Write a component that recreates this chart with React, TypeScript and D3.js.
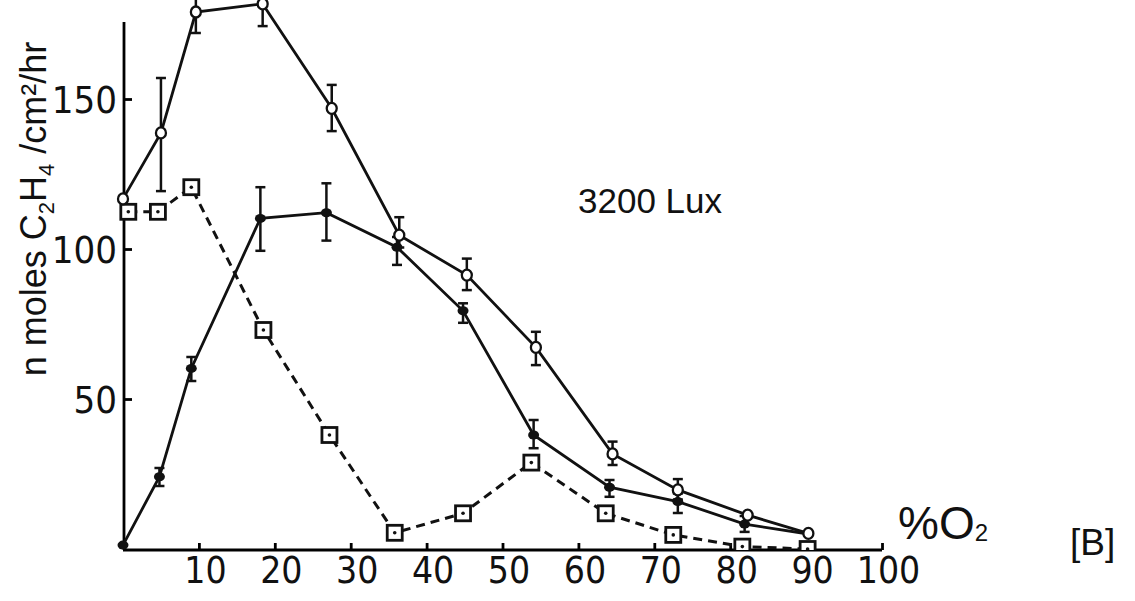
import React, { useEffect, useRef } from 'react'
import * as d3 from 'd3'

// % O2 values and rates (n moles C2H4 /cm2/hr)
const openX = [0, 5, 9.6, 18.4, 27.5, 36.4, 45.3, 54.4, 64.5, 73.1, 82.3, 90.3]
const openY = [116.7, 138.7, 179, 181.7, 146.9, 104.6, 91.3, 67.2, 31.7, 19.7, 11.3, 5.2]
const openHi = [null, 157, 188, 190, 154.7, 110.6, 96.8, 72.4, 35.8, 23.3, null, null]
const openLo = [null, 119.3, 172, 174.3, 139.3, 100.5, 86.3, 61.3, 28, 16.5, null, null]

const filledX = [0, 4.8, 9, 18.1, 26.8, 36.1, 44.8, 54.1, 64.1, 73.1, 81.9, 90.3]
const filledY = [1.3, 24.1, 60.2, 110.2, 112.1, 100.6, 79.4, 38, 20.6, 15.8, 8.3, 5]
const filledHi = [null, 27, 64, 120.6, 121.9, 104, 81.9, 43, 23, 18.5, 11, null]
const filledLo = [null, 21, 56, 99.4, 102.8, 94.7, 75.4, 33.6, 17.4, 12, 5.7, null]

const squareX = [0.7, 4.6, 9, 18.5, 27.2, 35.8, 44.8, 53.8, 63.6, 72.5, 81.6, 90.2]
const squareY = [112.4, 112.4, 120.6, 73, 38, 5.4, 11.9, 28.8, 11.9, 4.7, 0.8, 0]

const xTicks = [10, 20, 30, 40, 50, 60, 70, 80, 90, 100]
const yTicks = [50, 100, 150]

const narrow = "'Liberation Sans Narrow', 'DejaVu Sans Condensed', 'Liberation Sans', sans-serif"
const regular = "'Liberation Sans', Arial, sans-serif"

export default function App() {
    const svgRef = useRef<SVGSVGElement>(null)

    useEffect(() => {
        document.body.style.margin = '0'
        const w = 1135
        const h = 601
        const svg = d3.select(svgRef.current)
            .attr('width', w)
            .attr('height', h)
            .style('background', 'white')
            .style('display', 'block')
        svg.selectAll('*').remove()

        const x = d3.scaleLinear().domain([0, 100]).range([123, 882])
        const y = d3.scaleLinear().domain([0, 150]).range([549, 99])

        svg.append('defs').append('clipPath').attr('id', 'plot')
            .append('rect').attr('x', 100).attr('y', -50).attr('width', 900).attr('height', y(0) + 51)

        // axes
        const xAxis = d3.axisBottom(x).tickValues(xTicks).tickSize(-7).tickFormat(d3.format('d'))
        const gx = svg.append('g').attr('transform', `translate(0, ${y(0) + 1})`).call(xAxis)
        gx.select('.domain').attr('d', `M${x(0)},0H${x(100)}`).attr('stroke-width', 2.8)
        gx.selectAll('.tick line').attr('stroke-width', 2.8)
        gx.selectAll('.tick text')
            .attr('y', 33).attr('dy', 0).attr('dx', 6)
            .style('font-family', narrow).style('font-size', '37px').attr('fill', '#111')

        const yAxis = d3.axisLeft(y).tickValues(yTicks).tickSize(-8).tickPadding(8)
        const gy = svg.append('g').attr('transform', `translate(${x(0) + 1}, 0)`).call(yAxis)
        gy.select('.domain').attr('d', `M0,22V${y(0) + 1}`).attr('stroke-width', 2.8)
        gy.selectAll('.tick line').attr('stroke-width', 2.8)
        gy.selectAll('.tick text')
            .attr('x', -7).attr('dy', 13)
            .style('font-family', narrow).style('font-size', '38px').attr('fill', '#111')

        const plot = svg.append('g').attr('clip-path', 'url(#plot)')
        const line = d3.line<[number, number]>().x(d => x(d[0])).y(d => y(d[1]))

        // dashed square series
        const sq: [number, number][] = squareX.map((v, i) => [v, squareY[i]])
        plot.append('path').attr('d', line(sq)).attr('fill', 'none')
            .attr('stroke', '#111').attr('stroke-width', 3).attr('stroke-dasharray', '9,6')

        // solid lines
        const fl: [number, number][] = filledX.map((v, i) => [v, filledY[i]])
        const op: [number, number][] = openX.map((v, i) => [v, openY[i]])
        plot.append('path').attr('d', line(fl)).attr('fill', 'none').attr('stroke', '#111').attr('stroke-width', 2.8)
        plot.append('path').attr('d', line(op)).attr('fill', 'none').attr('stroke', '#111').attr('stroke-width', 2.8)

        // error bars
        const bars = (xs: number[], hi: (number | null)[], lo: (number | null)[]) => {
            xs.forEach((v, i) => {
                const a = hi[i], b = lo[i]
                if (a == null || b == null) return
                const g = plot.append('g').attr('stroke', '#111').attr('stroke-width', 2.5)
                g.append('line').attr('x1', x(v)).attr('x2', x(v)).attr('y1', y(a)).attr('y2', y(b))
                g.append('line').attr('x1', x(v) - 5).attr('x2', x(v) + 5).attr('y1', y(a)).attr('y2', y(a))
                g.append('line').attr('x1', x(v) - 5).attr('x2', x(v) + 5).attr('y1', y(b)).attr('y2', y(b))
            })
        }
        bars(openX, openHi, openLo)
        bars(filledX, filledHi, filledLo)

        // markers
        plot.selectAll('.sq').data(sq).join('rect')
            .attr('x', d => x(d[0]) - 7.5).attr('y', d => y(d[1]) - 7.5)
            .attr('width', 15).attr('height', 15)
            .attr('fill', 'white').attr('stroke', '#111').attr('stroke-width', 2.8)
        plot.selectAll('.sqdot').data(sq).join('circle')
            .attr('cx', d => x(d[0])).attr('cy', d => y(d[1])).attr('r', 1.8).attr('fill', '#111')

        plot.selectAll('.fc').data(fl).join('ellipse')
            .attr('cx', d => x(d[0])).attr('cy', d => y(d[1])).attr('rx', 5.5).attr('ry', 4.5)
            .attr('fill', '#111')
        plot.selectAll('.oc').data(op).join('ellipse')
            .attr('cx', d => x(d[0])).attr('cy', d => y(d[1])).attr('rx', 5).attr('ry', 5.5)
            .attr('fill', 'white').attr('stroke', '#111').attr('stroke-width', 2.3)

        // labels
        svg.append('text').attr('x', 578).attr('y', 213)
            .style('font-family', regular).style('font-size', '35px').attr('fill', '#111')
            .text('3200 Lux')

        const yl = svg.append('text')
            .attr('transform', `translate(46, 209) rotate(-90)`)
            .attr('text-anchor', 'middle')
            .style('font-family', regular).style('font-size', '36px').attr('fill', '#111')
        yl.append('tspan').text('n moles C')
        yl.append('tspan').attr('dy', 8).style('font-size', '22px').text('2')
        yl.append('tspan').attr('dy', -8).text('H')
        yl.append('tspan').attr('dy', 8).style('font-size', '22px').text('4')
        yl.append('tspan').attr('dy', -8).text(' /cm²/hr')

        const xl = svg.append('text').attr('x', 898).attr('y', 539)
            .style('font-family', regular).style('font-size', '46px').attr('fill', '#111')
        xl.append('tspan').text('%O')
        xl.append('tspan').attr('dy', 2).style('font-size', '24px').text('2')

        svg.append('text').attr('x', 1070).attr('y', 555)
            .style('font-family', regular).style('font-size', '37px').attr('fill', '#111')
            .text('[B]')
    }, [])

    return <svg ref={svgRef}></svg>
}
